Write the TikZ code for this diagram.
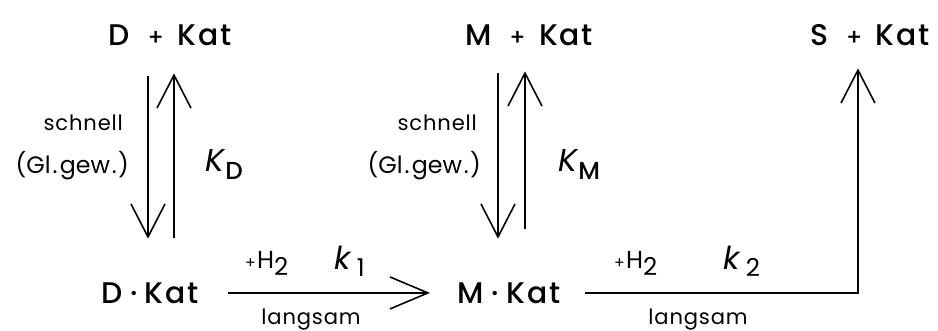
\documentclass[tikz,border=0pt]{standalone}
\usepackage{fontspec}
\setmainfont{Poppins}
\newfontfamily\medfont{Poppins Medium}
\usetikzlibrary{arrows.meta,calc}

\begin{document}
\begin{tikzpicture}[x=0.02cm,y=-0.02cm,
  chem/.style={font=\medfont\fontsize{17}{19}\selectfont\addfontfeature{LetterSpace=6},
               inner sep=2pt,text height=12.6pt,text depth=0pt,anchor=base},
  note/.style={font=\fontsize{12}{14}\selectfont\addfontfeature{LetterSpace=4},inner sep=1pt},
  rate/.style={font=\fontsize{18}{20}\selectfont,inner sep=1pt},
  arr/.style={-{Straight Barb[length=0.66cm,width=0.68cm]},line width=0.9pt},
  harr/.style={-{Straight Barb[length=0.76cm,width=0.64cm]},line width=0.9pt}
]
\useasboundingbox (0,0) rectangle (938,331);
% species
\node[chem] (dfree) at (170,46) {D\hspace{0.6em}{\fontsize{13}{13}\selectfont+}\hspace{0.45em}Kat};
\node[chem] (mfree) at (529,46) {M\hspace{0.6em}{\fontsize{13}{13}\selectfont+}\hspace{0.45em}Kat};
\node[chem] (sfree) at (870,46) {S\hspace{0.6em}{\fontsize{13}{13}\selectfont+}\hspace{0.45em}Kat};
\node[chem] (dads) at (150,304) {D\hspace{0.25em}·\hspace{0.25em}Kat};
\node[chem] (mads) at (509,304) {M\hspace{0.25em}·\hspace{0.25em}Kat};
% adsorption equilibria
\draw[arr] ($(dfree.south)+(-22,26.5)$) -- ($(dads.north)+(-2,-39.3)$);
\draw[arr] ($(dads.north)+(24,-40.3)$) -- ($(dfree.south)+(4,23.5)$);
\draw[arr] ($(mfree.south)+(-31,23.5)$) -- ($(mads.north)+(-11,-39.3)$);
\draw[arr] ($(mads.north)+(16,-49.3)$) -- ($(mfree.south)+(-4,21.5)$);
% hydrogenation steps
\draw[harr] ($(dads.center)+(78,0)$) -- ($(mads.center)+(-79,0)$);
\draw[arr] ($(mads.center)+(76,0)$) -| ($(sfree.south)+(-12,18.5)$);
% labels
\node[note,anchor=base east] (d1) at (125,131) {schnell};
\node[note,anchor=base east,font=\fontsize{13.5}{15}\selectfont] (d2) at (131,174) {(Gl\kern.08em.\kern.1em gew\kern.08em.\kern.05em)};
\node[rate,anchor=base west] (kd) at (203,172) {\textit{K}\raisebox{-0.45ex}{\medfont\fontsize{14}{14}\selectfont D}};
\node[note,anchor=base east] (m1) at (479,131) {schnell};
\node[note,anchor=base east,font=\fontsize{13.5}{15}\selectfont] (m2) at (483,174) {(Gl\kern.08em.\kern.1em gew\kern.08em.\kern.05em)};
\node[rate,anchor=base west] (km) at (556,172) {\textit{K}\raisebox{-0.45ex}{\medfont\fontsize{14}{14}\selectfont M}};
\node[note,anchor=base west,font=\fontsize{14}{16}\selectfont] (h1) at (243,269) {{\small+}\kern.05em H\raisebox{-0.5ex}{\fontsize{14}{14}\selectfont 2}};
\node[rate,anchor=base west] (k1) at (332,270) {\textit{k}\,\raisebox{-0.4ex}{\fontsize{14}{14}\selectfont 1}};
\node[note,anchor=base] (l1) at (311,325) {langsam};
\node[note,anchor=base west,font=\fontsize{14}{16}\selectfont] (h2) at (612,269) {{\small+}\kern.05em H\raisebox{-0.5ex}{\fontsize{14}{14}\selectfont 2}};
\node[rate,anchor=base west] (k2) at (721,270) {\textit{k}\,\raisebox{-0.4ex}{\fontsize{14}{14}\selectfont 2}};
\node[note,anchor=base] (l2) at (698,325) {langsam};
\end{tikzpicture}
\end{document}
